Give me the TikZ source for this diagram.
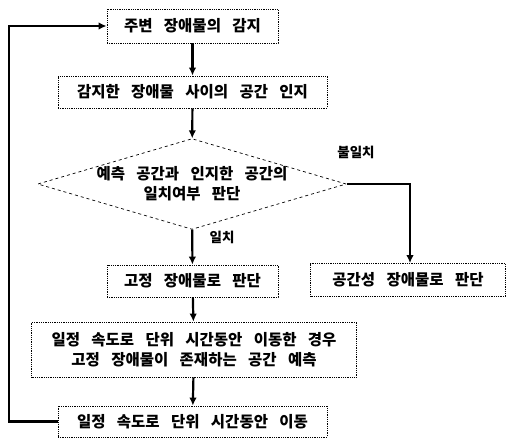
\documentclass[tikz,border=0pt]{standalone}
\usepackage{fontspec}
\setmainfont{Noto Sans CJK KR}[WordSpace=3.2]
\usetikzlibrary{shapes.geometric,arrows.meta}
\tikzset{
  stepbox/.style={draw, densely dotted, line width=0.8pt, minimum height=32pt, inner sep=2pt, align=center, font=\fontsize{15.5}{20}\selectfont\bfseries},
  decision/.style={draw, dashed, line width=0.7pt, diamond, aspect=3.4, inner sep=0pt, minimum width=284pt, minimum height=84pt, align=center, font=\fontsize{15.5}{20}\selectfont\bfseries},
  flow/.style={line width=2.2pt, -{Latex[length=8pt,width=7.5pt]}},
  lbl/.style={font=\fontsize{13.5}{16}\selectfont\bfseries}
}
\begin{document}
\begin{tikzpicture}[x=1pt,y=-1pt]
\useasboundingbox (0,0) rectangle (508,439);
\node[stepbox, minimum width=171pt, minimum height=34pt] (b1) at (192.5,26) {주변 장애물의 감지};
\node[stepbox, minimum width=269pt] (b2) at (192.5,92) {감지한 장애물 사이의 공간 인지};
\node[decision] (d) at (192,184) {예측 공간과 인지한 공간의\\일치여부 판단};
\node[stepbox, minimum width=171pt] (b3) at (192.5,281) {고정 장애물로 판단};
\node[stepbox, minimum width=195pt, minimum height=33pt] (b4) at (408,280) {공간성 장애물로 판단};
\node[stepbox, minimum width=325pt, minimum height=55pt] (b5) at (194,349.5) {일정 속도로 단위 시간동안 이동한 경우\\고정 장애물이 존재하는 공간 예측};
\node[stepbox, minimum width=269pt, minimum height=31pt] (b6) at (192.5,421.5) {일정 속도로 단위 시간동안 이동};
\node[lbl] (l1) at (356,152) {불일치};
\node[lbl] (l2) at (222,237) {일치};
\coordinate (fbb) at (9,421.5);
\coordinate (fbt) at (9,26);
\coordinate (rc) at (410,184);
\draw[flow] (b1) -- (b2);
\draw[flow] (b2) -- (d);
\draw[flow] (d) -- (b3);
\draw[flow] (d.east) -- (rc) -- (rc |- b4.north);
\draw[flow] (b3) -- (b5);
\draw[flow] (b5) -- (b6);
\draw[flow] (b6.west) -- (fbb) -- (fbt) -- (b1.west);
\end{tikzpicture}
\end{document}
